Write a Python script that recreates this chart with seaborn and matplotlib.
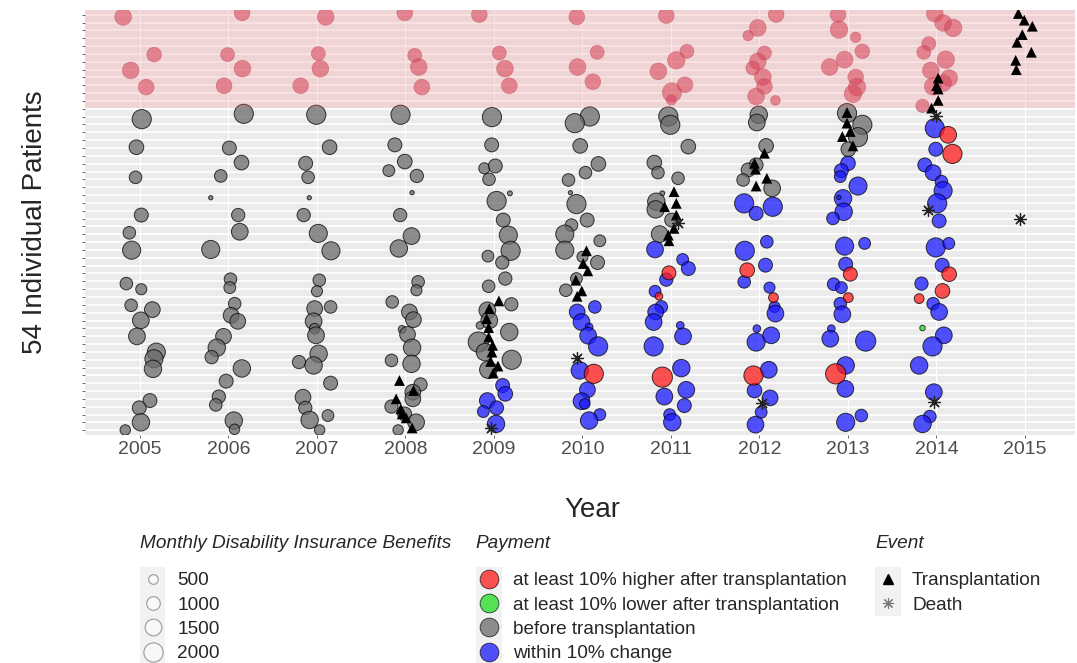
import numpy as np
import pandas as pd
import matplotlib.pyplot as plt
import seaborn as sns
from matplotlib.lines import Line2D
from matplotlib.patches import Rectangle

# 원본 그림에서 읽은 값: (연도 내 위치, 환자 위치, 월 장애보험 급여, 지급 구분)
# 지급 구분: B=이식 전, W=10% 이내 변화, H=10% 이상 증가, L=10% 이상 감소
circles_2005 = [
    (-0.19, 53.72, 1380, 'B'), (0.16, 48.91, 1060, 'B'), (-0.105, 46.90, 1380, 'B'),
    (0.07, 44.77, 1220, 'B'), (0.02, 40.68, 1820, 'B'), (-0.04, 37.10, 1060, 'B'),
    (-0.05, 33.26, 780, 'B'), (0.015, 28.45, 960, 'B'), (-0.12, 26.19, 780, 'B'),
    (-0.094, 23.97, 1620, 'B'), (-0.154, 19.71, 780, 'B'), (0.015, 18.99, 610, 'B'),
    (-0.10, 16.94, 780, 'B'), (0.14, 16.39, 1220, 'B'), (0.01, 15.02, 1380, 'B'),
    (-0.034, 12.98, 1380, 'B'), (0.185, 10.97, 1620, 'B'), (0.158, 10.12, 1620, 'B'),
    (0.147, 8.84, 1500, 'B'), (0.113, 4.79, 960, 'B'), (-0.008, 3.86, 960, 'B'),
    (0.011, 2.02, 1500, 'B'), (-0.166, 1.04, 540, 'B'),
]
circles_2006 = [
    (0.154, 54.23, 1220, 'B'), (-0.01, 48.91, 960, 'B'), (0.158, 47.12, 1380, 'B'),
    (-0.05, 44.94, 1220, 'B'), (0.173, 41.36, 1820, 'B'), (0.01, 37.00, 960, 'B'),
    (0.147, 35.14, 1060, 'B'), (-0.087, 33.44, 780, 'B'), (-0.20, 30.66, 90, 'B'),
    (0.11, 28.45, 870, 'B'), (0.128, 26.32, 1380, 'B'), (-0.20, 24.06, 1620, 'B'),
    (0.023, 20.27, 780, 'B'), (0.015, 19.20, 690, 'B'), (0.07, 17.15, 780, 'B'),
    (0.03, 15.66, 1220, 'B'), (0.105, 14.90, 1220, 'B'), (-0.056, 12.98, 1220, 'B'),
    (-0.132, 11.53, 1500, 'B'), (-0.19, 10.33, 870, 'B'), (0.151, 8.89, 1500, 'B'),
    (-0.026, 7.27, 960, 'B'), (-0.109, 5.30, 870, 'B'), (-0.143, 4.24, 780, 'B'),
    (0.06, 2.24, 1500, 'B'), (0.068, 1.13, 540, 'B'),
]
circles_2007 = [
    (0.098, 53.72, 1380, 'B'), (0.015, 49.04, 960, 'B'), (0.038, 47.12, 1380, 'B'),
    (-0.185, 44.94, 1220, 'B'), (-0.008, 41.24, 1820, 'B'), (0.143, 37.10, 1060, 'B'),
    (-0.128, 35.05, 960, 'B'), (-0.10, 33.26, 780, 'B'), (-0.087, 30.66, 90, 'B'),
    (-0.15, 28.45, 870, 'B'), (0.015, 26.11, 1620, 'B'), (0.158, 23.89, 1620, 'B'),
    (0.026, 20.14, 780, 'B'), (0.0, 18.73, 610, 'B'), (0.154, 16.73, 780, 'B'),
    (-0.026, 16.52, 1220, 'B'), (-0.038, 14.90, 1380, 'B'), (-0.026, 13.96, 540, 'B'),
    (-0.011, 13.11, 1380, 'B'), (0.019, 10.76, 1500, 'B'), (-0.203, 9.70, 870, 'B'),
    (-0.038, 9.27, 1500, 'B'), (0.154, 7.01, 960, 'B'), (-0.158, 5.22, 1220, 'B'),
    (-0.132, 3.86, 870, 'B'), (0.124, 2.88, 690, 'B'), (-0.083, 2.32, 1500, 'B'),
    (0.03, 1.04, 540, 'B'),
]
circles_2008 = [
    (-0.008, 54.23, 1220, 'B'), (0.105, 48.82, 960, 'B'), (0.15, 47.33, 1380, 'B'),
    (0.185, 44.77, 1220, 'B'), (-0.056, 41.24, 1820, 'B'), (-0.12, 37.40, 960, 'B'),
    (-0.008, 35.27, 1060, 'B'), (-0.188, 34.12, 690, 'B'), (0.128, 33.44, 870, 'B'),
    (0.075, 31.30, 90, 'B'), (-0.06, 28.45, 870, 'B'), (0.068, 25.77, 1380, 'B'),
    (-0.075, 24.19, 1500, 'B'), (0.143, 19.93, 780, 'B'), (0.124, 18.86, 610, 'B'),
    (-0.15, 17.37, 780, 'B'), (0.045, 16.09, 1220, 'B'), (0.09, 15.11, 1220, 'B'),
    (-0.038, 13.87, 290, 'B'), (0.023, 13.23, 1220, 'B'), (0.075, 11.53, 1500, 'B'),
    (-0.158, 9.91, 780, 'B'), (0.068, 9.48, 1500, 'B'), (0.17, 6.84, 870, 'B'),
    (0.083, 5.86, 1220, 'B'), (0.083, 5.01, 1220, 'B'), (-0.158, 4.03, 870, 'B'),
    (-0.01, 3.09, 960, 'B'), (0.12, 2.02, 1380, 'B'), (-0.083, 1.04, 540, 'B'),
]
circles_2009 = [
    (-0.166, 54.02, 1220, 'B'), (0.06, 49.12, 960, 'B'), (0.124, 47.12, 1380, 'B'),
    (0.173, 44.94, 1220, 'B'), (-0.023, 40.94, 1820, 'B'), (-0.026, 37.40, 960, 'B'),
    (-0.109, 34.41, 610, 'B'), (0.015, 34.71, 960, 'B'), (-0.056, 33.01, 780, 'B'),
    (0.18, 31.22, 120, 'B'), (0.03, 30.24, 1820, 'B'), (0.105, 27.81, 960, 'B'),
    (0.162, 25.89, 1620, 'B'), (0.188, 23.89, 1820, 'B'), (-0.068, 23.21, 690, 'B'),
    (0.094, 22.40, 870, 'B'), (0.128, 20.35, 870, 'B'), (-0.06, 19.37, 780, 'B'),
    (0.196, 17.07, 870, 'B'), (-0.075, 16.30, 1380, 'B'), (-0.053, 15.02, 1380, 'B'),
    (-0.158, 14.38, 290, 'B'), (0.173, 13.53, 1500, 'B'), (-0.177, 12.25, 2020, 'B'),
    (-0.102, 10.97, 1500, 'B'), (0.20, 9.99, 1820, 'B'), (-0.064, 8.72, 1500, 'B'),
    (0.098, 6.71, 960, 'W'), (0.128, 5.65, 1060, 'W'), (-0.075, 4.79, 1220, 'W'),
    (0.03, 3.86, 960, 'W'), (-0.12, 3.39, 690, 'W'), (0.023, 1.81, 1500, 'W'),
]
circles_2010 = [
    (-0.064, 53.72, 1220, 'B'), (0.166, 49.21, 960, 'B'), (-0.056, 47.33, 1380, 'B'),
    (0.117, 45.45, 1220, 'B'), (0.083, 41.02, 1820, 'B'), (-0.087, 40.17, 1820, 'B'),
    (-0.026, 37.27, 1060, 'B'), (0.18, 34.97, 1060, 'B'), (0.034, 33.86, 780, 'B'),
    (-0.158, 32.92, 780, 'B'), (-0.136, 31.30, 90, 'B'), (-0.068, 29.85, 1820, 'B'),
    (0.053, 27.81, 960, 'B'), (-0.124, 27.17, 780, 'B'), (-0.20, 26.02, 1620, 'B'),
    (0.196, 25.17, 690, 'B'), (-0.20, 23.97, 1620, 'B'), (0.0, 23.12, 610, 'B'),
    (0.17, 22.40, 960, 'B'), (-0.068, 20.35, 690, 'B'), (-0.188, 18.86, 780, 'B'),
    (0.14, 16.73, 780, 'W'), (-0.06, 16.09, 1220, 'W'), (-0.011, 14.81, 1380, 'W'),
    (0.075, 14.17, 290, 'W'), (0.064, 13.06, 1380, 'W'), (0.177, 11.70, 1820, 'W'),
    (-0.03, 8.63, 1500, 'W'), (0.128, 8.20, 1820, 'H'), (0.056, 6.16, 1220, 'W'),
    (-0.011, 4.71, 1380, 'W'), (0.026, 4.37, 540, 'W'), (0.196, 3.00, 690, 'W'),
    (0.075, 2.24, 1500, 'W'),
]
circles_2011 = [
    (-0.053, 53.89, 1220, 'B'), (0.18, 49.33, 960, 'B'), (0.06, 48.18, 1500, 'B'),
    (-0.143, 46.78, 1380, 'B'), (0.158, 45.07, 1220, 'B'), (0.011, 44.09, 1820, 'B'),
    (0.004, 43.15, 540, 'B'), (-0.03, 41.02, 1820, 'B'), (-0.008, 39.96, 1820, 'B'),
    (0.196, 37.18, 1060, 'B'), (-0.188, 35.14, 1060, 'B'), (-0.147, 33.86, 780, 'B'),
    (0.08, 33.14, 780, 'B'), (-0.098, 31.22, 120, 'B'), (-0.166, 30.15, 1500, 'B'),
    (-0.173, 29.17, 1500, 'B'), (0.008, 27.81, 960, 'B'), (-0.128, 26.02, 1380, 'B'),
    (-0.18, 24.06, 1380, 'W'), (0.132, 22.78, 690, 'W'), (0.196, 21.63, 960, 'W'),
    (-0.023, 21.08, 960, 'H'), (-0.053, 20.22, 870, 'W'), (-0.18, 18.73, 690, 'W'),
    (-0.136, 18.09, 290, 'H'), (-0.109, 16.73, 780, 'W'), (-0.173, 16.09, 1220, 'W'),
    (-0.196, 14.81, 1380, 'W'), (0.105, 14.38, 290, 'W'), (0.136, 12.98, 1380, 'W'),
    (-0.196, 11.70, 1820, 'W'), (0.117, 8.93, 1500, 'W'), (-0.098, 7.78, 2020, 'H'),
    (0.173, 6.16, 1380, 'W'), (-0.075, 5.30, 1380, 'W'), (0.151, 4.15, 960, 'W'),
    (-0.015, 3.00, 690, 'W'), (0.015, 2.02, 1500, 'W'),
]
circles_2012 = [
    (0.188, 54.02, 1220, 'B'), (-0.019, 52.32, 1380, 'B'), (-0.128, 51.34, 540, 'B'),
    (0.056, 49.12, 960, 'B'), (-0.019, 48.05, 1380, 'B'), (-0.075, 47.20, 960, 'B'),
    (0.038, 46.05, 1380, 'B'), (0.056, 44.86, 1220, 'B'), (-0.038, 43.58, 1380, 'B'),
    (0.18, 43.07, 470, 'B'), (-0.008, 41.24, 1500, 'B'), (-0.03, 40.25, 1380, 'B'),
    (0.075, 37.27, 1060, 'B'), (-0.038, 34.84, 960, 'B'), (-0.128, 34.20, 960, 'B'),
    (-0.185, 32.92, 780, 'B'), (0.143, 31.86, 1380, 'B'), (-0.173, 29.94, 1820, 'W'),
    (0.15, 29.51, 1820, 'W'), (-0.038, 28.66, 960, 'W'), (0.083, 25.04, 780, 'W'),
    (-0.166, 23.89, 1820, 'W'), (0.068, 22.06, 960, 'W'), (-0.139, 21.42, 1060, 'H'),
    (-0.173, 19.93, 780, 'W'), (0.113, 19.20, 610, 'W'), (0.158, 17.92, 470, 'H'),
    (0.17, 16.73, 610, 'W'), (0.18, 15.88, 1380, 'W'), (-0.03, 13.96, 290, 'W'),
    (-0.038, 12.25, 1620, 'W'), (0.132, 13.11, 1380, 'W'), (-0.068, 7.99, 1820, 'H'),
    (0.105, 8.72, 1380, 'W'), (-0.056, 6.07, 1060, 'W'), (0.12, 5.13, 1220, 'W'),
    (0.019, 3.30, 690, 'W'), (-0.045, 1.72, 1380, 'W'),
]
circles_2013 = [
    (-0.113, 54.02, 1220, 'B'), (-0.102, 52.10, 1500, 'B'), (0.087, 51.12, 540, 'B'),
    (0.162, 49.33, 1060, 'B'), (-0.038, 48.27, 1380, 'B'), (-0.207, 47.33, 1380, 'B'),
    (0.087, 46.05, 1220, 'B'), (0.102, 44.77, 1500, 'B'), (0.056, 43.92, 1500, 'B'),
    (-0.011, 41.45, 1820, 'B'), (0.162, 39.96, 1820, 'B'), (0.113, 38.38, 1820, 'B'),
    (0.004, 36.84, 1060, 'B'), (0.0, 35.05, 1060, 'W'), (-0.075, 34.12, 960, 'W'),
    (-0.087, 33.35, 690, 'W'), (0.113, 32.15, 1620, 'W'), (-0.056, 30.58, 1500, 'W'),
    (-0.102, 30.70, 90, 'W'), (-0.049, 28.87, 1500, 'W'), (-0.17, 28.02, 780, 'W'),
    (-0.038, 24.49, 1620, 'W'), (0.188, 24.83, 690, 'W'), (-0.026, 22.18, 960, 'W'),
    (0.026, 20.91, 960, 'H'), (-0.162, 19.63, 780, 'W'), (-0.075, 19.20, 690, 'W'),
    (0.004, 17.92, 470, 'H'), (-0.087, 17.15, 780, 'W'), (-0.064, 15.79, 1380, 'W'),
    (-0.188, 13.96, 290, 'W'), (-0.20, 12.68, 1380, 'W'), (0.20, 12.38, 2020, 'W'),
    (-0.026, 9.27, 1500, 'W'), (-0.139, 8.20, 2020, 'H'), (-0.03, 6.29, 1380, 'W'),
    (0.151, 2.88, 780, 'W'), (-0.026, 2.02, 1620, 'W'),
]
circles_2014 = [
    (-0.019, 54.15, 1380, 'B'), (0.075, 52.96, 1380, 'B'), (0.188, 52.32, 1500, 'B'),
    (-0.087, 50.31, 960, 'B'), (-0.143, 49.21, 960, 'B'), (0.105, 48.27, 1500, 'B'),
    (-0.064, 46.90, 1380, 'B'), (0.143, 45.92, 1380, 'B'), (0.075, 45.28, 1380, 'B'),
    (-0.038, 44.86, 1500, 'B'), (-0.158, 42.38, 870, 'B'), (-0.019, 39.53, 1820, 'W'),
    (0.132, 38.68, 1380, 'H'), (-0.008, 36.84, 960, 'W'), (0.18, 36.25, 1820, 'H'),
    (-0.132, 34.84, 960, 'W'), (-0.038, 33.86, 1220, 'W'), (0.056, 32.71, 780, 'W'),
    (0.075, 31.56, 1620, 'W'), (0.008, 29.94, 1820, 'W'), (0.03, 27.70, 960, 'W'),
    (-0.008, 24.32, 1820, 'W'), (0.139, 24.83, 690, 'W'), (0.064, 22.06, 960, 'W'),
    (0.143, 20.91, 1060, 'H'), (-0.17, 19.71, 870, 'W'), (0.068, 18.77, 1060, 'H'),
    (-0.196, 17.79, 470, 'H'), (-0.038, 17.15, 780, 'W'), (0.03, 16.09, 1380, 'W'),
    (-0.158, 14.04, 150, 'L'), (0.083, 13.11, 1380, 'W'), (-0.045, 11.70, 1820, 'W'),
    (-0.196, 9.27, 1500, 'W'), (-0.03, 5.86, 1380, 'W'), (-0.075, 2.75, 780, 'W'),
    (-0.158, 1.81, 1500, 'W'),
]

# 이식 시점 (연도, 연도 내 위치, 환자 위치)
transplants = [
    (2008, -0.068, 7.35), (2008, 0.09, 6.07), (2008, -0.105, 5.01), (2008, -0.053, 3.73),
    (2008, -0.038, 3.09), (2008, 0.008, 2.58), (2008, 0.075, 1.30),
    (2009, 0.056, 17.50), (2009, -0.053, 16.52), (2009, -0.083, 15.24), (2009, -0.06, 14.09),
    (2009, -0.06, 12.89), (2009, -0.015, 11.83), (2009, -0.023, 10.97), (2009, -0.038, 9.78),
    (2009, 0.045, 9.19), (2009, -0.008, 8.29),
    (2010, 0.045, 23.89), (2010, 0.008, 22.27), (2010, 0.06, 21.33), (2010, -0.075, 20.14),
    (2010, -0.008, 18.77), (2010, -0.06, 18.09),
    (2011, 0.034, 31.43), (2011, 0.06, 29.94), (2011, -0.072, 29.51), (2011, 0.06, 28.45),
    (2011, 0.034, 26.75), (2011, -0.03, 25.89), (2011, -0.023, 25.17),
    (2012, 0.056, 36.33), (2012, -0.056, 35.05), (2012, -0.045, 34.29), (2012, 0.083, 33.14),
    (2012, -0.038, 32.15),
    (2013, -0.011, 41.53), (2013, -0.011, 40.17), (2013, 0.026, 39.10), (2013, -0.064, 38.46),
    (2013, 0.056, 37.27),
    (2014, 0.019, 45.92), (2014, 0.0, 44.94), (2014, 0.019, 44.52), (2014, 0.019, 43.07),
    (2014, -0.056, 42.09),
    (2015, -0.075, 54.15), (2015, -0.008, 53.30), (2015, 0.083, 52.53), (2015, -0.03, 51.46),
    (2015, -0.09, 50.48), (2015, 0.072, 49.21), (2015, -0.105, 48.18), (2015, -0.098, 46.99),
]

# 사망 시점
deaths = [
    (2009, -0.03, 1.26), (2010, -0.06, 10.25), (2011, 0.08, 27.47), (2012, 0.03, 4.45),
    (2014, 0.0, 41.02), (2014, -0.094, 29.09), (2014, -0.03, 4.58), (2015, -0.053, 27.90),
]

n_patients = 54
band_low = 42.15   # 빨간 영역 아래 경계
years = list(range(2005, 2016))
size_breaks = [500, 1000, 1500, 2000]

pay_labels = {
    'H': 'at least 10% higher after transplantation',
    'L': 'at least 10% lower after transplantation',
    'B': 'before transplantation',
    'W': 'within 10% change',
}
pay_colors = {'H': '#ff1a1a', 'L': '#22dd22', 'B': '#6a6a6a', 'W': '#1a1aff'}
draw_order = ['W', 'B', 'H', 'L']

SIZE_K = 0.105      # 급여 1단위당 마커 면적 (pt^2)
SIZE_MAX = 2200

# 데이터프레임 구성
circle_sets = {2005: circles_2005, 2006: circles_2006, 2007: circles_2007, 2008: circles_2008,
               2009: circles_2009, 2010: circles_2010, 2011: circles_2011, 2012: circles_2012,
               2013: circles_2013, 2014: circles_2014}
rows = []
for yr, pts in circle_sets.items():
    for dx, pat, ben, code in pts:
        rows.append({'year': yr + dx, 'patient': pat, 'benefit': ben, 'payment': code})
df = pd.DataFrame(rows)
df['order'] = df['payment'].map({c: i for i, c in enumerate(draw_order)})
df = df.sort_values('order', kind='stable')
df['in_band'] = df['patient'] > band_low

tx_df = pd.DataFrame([{'year': y + dx, 'patient': p} for y, dx, p in transplants])
death_df = pd.DataFrame([{'year': y + dx, 'patient': p} for y, dx, p in deaths])

# 시각화
sns.set_style('darkgrid', {'axes.facecolor': '#ebebeb', 'grid.color': 'white'})
plt.rcParams['font.family'] = ['Liberation Sans', 'DejaVu Sans']

W, H = 1077, 663
fig = plt.figure(figsize=(W / 100, H / 100), dpi=100)
ax = fig.add_axes([85 / W, 1 - 435 / H, 990 / W, 425 / H])

size_kws = dict(size='benefit', sizes=(0, SIZE_K * SIZE_MAX), size_norm=(0, SIZE_MAX))

main = df[~df['in_band']]
sns.scatterplot(data=main, x='year', y='patient', hue='payment', palette=pay_colors,
                alpha=0.75, edgecolor='black', linewidth=0.7, legend=False, ax=ax,
                zorder=2, **size_kws)

band_pts = df[df['in_band']]
sns.scatterplot(data=band_pts, x='year', y='patient', color='#cc3a50', alpha=0.58,
                edgecolor='#b04858', linewidth=0.5, legend=False, ax=ax, zorder=2, **size_kws)

ax.axhspan(band_low, n_patients + 1, color=(1.0, 0.47, 0.49), alpha=0.2, lw=0, zorder=3)

sns.scatterplot(data=tx_df, x='year', y='patient', marker='^', color='black', s=60,
                edgecolor='none', legend=False, ax=ax, zorder=4)
sns.scatterplot(data=death_df, x='year', y='patient', marker=(8, 2, 0), color='#222222',
                edgecolor='#222222', s=75, linewidth=0.9, legend=False, ax=ax, zorder=4)

# 축 설정
ax.set_xlim(2004.379, 2015.565)
ax.set_ylim(0.4, n_patients + 0.6)
ax.set_xticks(years)
ax.set_xticklabels([str(y) for y in years], fontsize=14, color='#4d4d4d')
ax.set_yticks(range(1, n_patients + 1))
ax.set_yticklabels([])
ax.tick_params(axis='both', length=2.2, width=0.6, color='#4d4d4d', pad=2, left=True, bottom=True)
ax.grid(True, axis='y', color='white', lw=1.2)
ax.grid(True, axis='x', color='white', lw=0.8)
ax.set_xlabel('')
ax.set_ylabel('')
for sp in ax.spines.values():
    sp.set_visible(False)

fig.text(592 / W, 1 - 510 / H, 'Year', fontsize=20, ha='center', va='center')
fig.text(35 / W, 1 - 222 / H, '54 Individual Patients', fontsize=20, rotation=90,
         ha='center', va='center')

# 범례
fs = 13.7
for x0, title in [(140, 'Monthly Disability Insurance Benefits'), (475, 'Payment'), (875, 'Event')]:
    fig.text(x0 / W, 1 - 543 / H, title, fontsize=fs, style='italic', ha='left', va='center')

for x0, x1, y0, y1 in [(140, 165, 567, 670), (476, 502, 567, 670), (875, 901, 567, 616)]:
    fig.add_artist(Rectangle((x0 / W, 1 - y1 / H), (x1 - x0) / W, (y1 - y0) / H,
                             transform=fig.transFigure, color='#f2f2f2', lw=0, zorder=0))

size_handles = [Line2D([], [], ls='', marker='o', markersize=np.sqrt(0.096 * v),
                       markerfacecolor='#f8f8f8', markeredgecolor='#9a9a9a', markeredgewidth=0.8)
                for v in size_breaks]
pay_handles = [Line2D([], [], ls='', marker='o', markersize=13.5, alpha=0.75,
                      markerfacecolor=pay_colors[c], markeredgecolor='black', markeredgewidth=0.6)
               for c in ['H', 'L', 'B', 'W']]
event_handles = [Line2D([], [], ls='', marker='^', markersize=7, color='black'),
                 Line2D([], [], ls='', marker=(8, 2, 0), markersize=8, color='#777777',
                        markeredgewidth=0.8)]

leg_kws = dict(frameon=False, borderpad=0, borderaxespad=0, handlelength=1.35,
               handletextpad=0.6, labelspacing=0.37, fontsize=fs, loc='upper left',
               bbox_transform=fig.transFigure)
leg1 = fig.legend(size_handles, [str(v) for v in size_breaks],
                  bbox_to_anchor=(140 / W, 1 - 572 / H), **leg_kws)
leg2 = fig.legend(pay_handles, [pay_labels[c] for c in ['H', 'L', 'B', 'W']],
                  bbox_to_anchor=(476 / W, 1 - 572 / H), **leg_kws)
leg3 = fig.legend(event_handles, ['Transplantation', 'Death'],
                  bbox_to_anchor=(875 / W, 1 - 572 / H), **leg_kws)

plt.savefig('out.png', dpi=100)
